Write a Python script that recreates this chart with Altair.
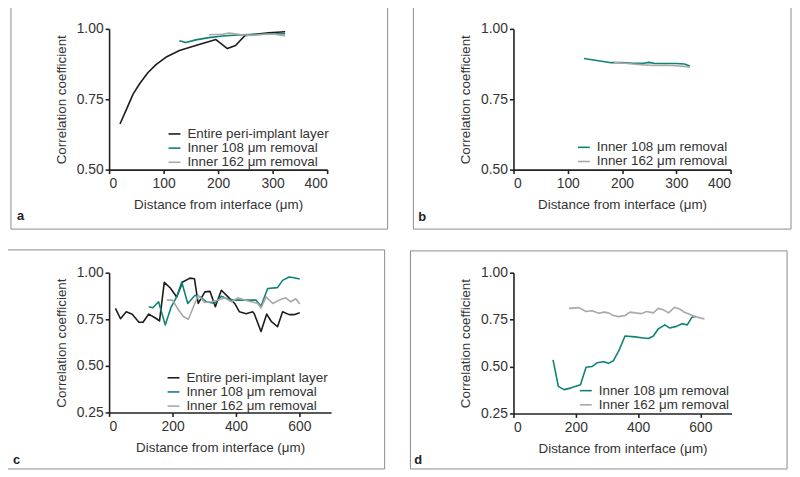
import altair as alt
import pandas as pd

FONT = "Liberation Sans"
C_BLACK = "#1c1c1c"
C_TEAL = "#0f8276"
C_GRAY = "#a8a8a8"
TXT = "#333333"

S_ENTIRE = "Entire peri-implant layer"
S_108 = "Inner 108 μm removal"
S_162 = "Inner 162 μm removal"

# ---------------- Panel a ----------------
a_entire_x = [20, 32, 44, 56, 71, 86, 104, 129, 159, 196, 217, 232, 249, 268, 293, 323]
a_entire_y = [0.662, 0.715, 0.768, 0.805, 0.844, 0.873, 0.899, 0.923, 0.941, 0.962, 0.930, 0.941, 0.976, 0.981, 0.986, 0.990]
a_108_x = [129, 141, 159, 183, 208, 244, 280, 323]
a_108_y = [0.958, 0.952, 0.961, 0.969, 0.975, 0.979, 0.981, 0.983]
a_162_x = [183, 208, 220, 244, 262, 286, 304, 323]
a_162_y = [0.979, 0.981, 0.985, 0.979, 0.977, 0.981, 0.981, 0.975]

# ---------------- Panel b ----------------
b_108_x = [130, 180, 200, 220, 240, 250, 260, 280, 300, 315, 325]
b_108_y = [0.895, 0.880, 0.880, 0.878, 0.878, 0.881, 0.877, 0.877, 0.877, 0.875, 0.868]
b_162_x = [185, 200, 220, 240, 260, 280, 300, 320, 325]
b_162_y = [0.880, 0.879, 0.875, 0.872, 0.870, 0.871, 0.869, 0.866, 0.864]

# ---------------- Panel c ----------------
c_entire_x = [20, 36, 54, 73, 94, 107, 125, 146, 159, 174, 193, 213, 232, 255, 269, 281, 302, 318, 335,
              354, 375, 396, 411, 432, 453, 458, 479, 497, 512, 531, 547, 568, 583, 601]
c_entire_y = [0.809, 0.753, 0.790, 0.777, 0.734, 0.734, 0.778, 0.757, 0.741, 0.948, 0.918, 0.870, 0.950,
              0.971, 0.968, 0.835, 0.897, 0.900, 0.817, 0.906, 0.870, 0.835, 0.790, 0.780, 0.790, 0.778,
              0.684, 0.778, 0.737, 0.710, 0.790, 0.775, 0.775, 0.785]
c_108_x = [125, 138, 156, 177, 196, 213, 229, 248, 271, 287, 307, 333, 354, 370, 391, 417, 448, 463,
           479, 500, 531, 547, 568, 583, 601]
c_108_y = [0.817, 0.812, 0.844, 0.720, 0.817, 0.870, 0.950, 0.835, 0.879, 0.870, 0.844, 0.835, 0.874,
           0.862, 0.853, 0.853, 0.853, 0.853, 0.820, 0.915, 0.920, 0.959, 0.977, 0.973, 0.966]
c_162_x = [182, 200, 219, 234, 250, 266, 281, 302, 323, 344, 365, 385, 406, 427, 448, 469, 479, 495,
           516, 536, 557, 573, 589, 601]
c_162_y = [0.853, 0.853, 0.800, 0.765, 0.750, 0.817, 0.879, 0.840, 0.844, 0.853, 0.865, 0.844, 0.865,
           0.853, 0.844, 0.835, 0.810, 0.870, 0.835, 0.853, 0.865, 0.844, 0.860, 0.832]

# ---------------- Panel d ----------------
d_108_x = [127, 144, 162, 183, 215, 233, 252, 268, 290, 305, 321, 339, 358, 390, 417, 433, 449, 465,
           486, 502, 523, 541, 558, 573, 586]
d_108_y = [0.535, 0.394, 0.377, 0.385, 0.403, 0.496, 0.500, 0.520, 0.526, 0.517, 0.531, 0.587, 0.663,
           0.658, 0.652, 0.649, 0.663, 0.701, 0.722, 0.705, 0.714, 0.728, 0.722, 0.763, 0.767]
d_162_x = [178, 210, 233, 252, 274, 290, 305, 321, 337, 358, 374, 390, 411, 427, 449, 465, 480, 498,
           517, 533, 549, 571, 586, 602, 613]
d_162_y = [0.810, 0.814, 0.793, 0.797, 0.784, 0.790, 0.786, 0.772, 0.766, 0.772, 0.790, 0.786, 0.782,
           0.793, 0.786, 0.810, 0.803, 0.786, 0.816, 0.807, 0.789, 0.775, 0.765, 0.758, 0.754]

COLORS = {S_ENTIRE: C_BLACK, S_108: C_TEAL, S_162: C_GRAY}


def make_df(series_list):
    rows = []
    for name, xs, ys in series_list:
        for x, y in zip(xs, ys):
            rows.append({"series": name, "x": x, "y": y})
    return pd.DataFrame(rows)


ONE = pd.DataFrame({"k": [0]})


def panel(df, label, series, xmax, xticks, ymin, yticks, w, h, frame, leg, lab):
    lines = alt.Chart(df).mark_line(strokeWidth=1.6, strokeJoin="round").encode(
        x=alt.X("x:Q", scale=alt.Scale(domain=[0, xmax], nice=False, zero=False),
                axis=alt.Axis(values=xticks, format="d", title="Distance from interface (μm)",
                              labelPadding=3, titlePadding=7)),
        y=alt.Y("y:Q", scale=alt.Scale(domain=[ymin, 1.0], nice=False, zero=False),
                axis=alt.Axis(values=yticks, format=".2f", title="Correlation coefficient",
                              labelPadding=2, titlePadding=8)),
        color=alt.Color("series:N",
                        scale=alt.Scale(domain=series, range=[COLORS[s] for s in series]),
                        sort=series,
                        legend=alt.Legend(title=None, orient="none", legendX=leg[0], legendY=leg[1],
                                          symbolType="stroke", symbolStrokeWidth=1.6, symbolSize=144,
                                          labelFontSize=13.5, labelFont=FONT, labelColor=TXT,
                                          rowPadding=0.3, labelOffset=6, padding=0)),
    )
    box = alt.Chart(ONE).mark_rect(fillOpacity=0, stroke="#8a8a8a", strokeWidth=1).encode(
        x=alt.value(frame[0]), x2=alt.value(frame[1]), y=alt.value(frame[2]), y2=alt.value(frame[3])
    )
    tag = alt.Chart(ONE).mark_text(text=label, align="left", baseline="alphabetic", fontSize=13,
                                   fontWeight="bold", font=FONT, color="#222222").encode(
        x=alt.value(lab[0]), y=alt.value(lab[1])
    )
    return alt.layer(box, lines, tag).properties(width=w, height=h)


pa = panel(make_df([(S_ENTIRE, a_entire_x, a_entire_y), (S_108, a_108_x, a_108_y), (S_162, a_162_x, a_162_y)]),
           "a", [S_ENTIRE, S_108, S_162], 400, [0, 100, 200, 300, 400], 0.5, [0.5, 0.75, 1.0],
           220, 142, (-99, 281, -22, 202), (59, 99), (-93, 193))
pb = panel(make_df([(S_108, b_108_x, b_108_y), (S_162, b_162_x, b_162_y)]),
           "b", [S_108, S_162], 400, [0, 100, 200, 300, 400], 0.5, [0.5, 0.75, 1.0],
           219, 142, (-101, 280, -22, 202), (64, 112.5), (-96, 194))
pc = panel(make_df([(S_ENTIRE, c_entire_x, c_entire_y), (S_108, c_108_x, c_108_y), (S_162, c_162_x, c_162_y)]),
           "c", [S_ENTIRE, S_108, S_162], 700, [0, 200, 400, 600], 0.25, [0.25, 0.5, 0.75, 1.0],
           224, 141, (-103, 278, -23, 198), (58, 99), (-97, 193))
pd_ = panel(make_df([(S_108, d_108_x, d_108_y), (S_162, d_162_x, d_162_y)]),
            "d", [S_108, S_162], 700, [0, 200, 400, 600], 0.25, [0.25, 0.5, 0.75, 1.0],
            220, 142, (-104, 276, -22, 198), (66, 112), (-100, 193))

top = alt.hconcat(pa, pb, spacing=24).resolve_scale(x="independent", y="independent", color="independent").resolve_legend(color="independent")
bot = alt.hconcat(pc, pd_, spacing=24).resolve_scale(x="independent", y="independent", color="independent").resolve_legend(color="independent")

chart = alt.vconcat(top, bot, spacing=19).resolve_scale(
    x="independent", y="independent", color="independent"
).resolve_legend(color="independent").properties(
    padding={"top": -4, "left": -2, "right": 0, "bottom": 0}, background="white"
).configure_view(
    strokeWidth=0
).configure_axis(
    grid=False, domainColor="#222222", domainWidth=1.6, tickColor="#222222", tickWidth=1.6, tickSize=4,
    labelFont=FONT, labelFontSize=14, labelColor=TXT, titleFont=FONT, titleFontSize=13.5,
    titleFontWeight="normal", titleColor=TXT
)

chart.save("out.html", embed_options={"renderer": "svg", "actions": False})
